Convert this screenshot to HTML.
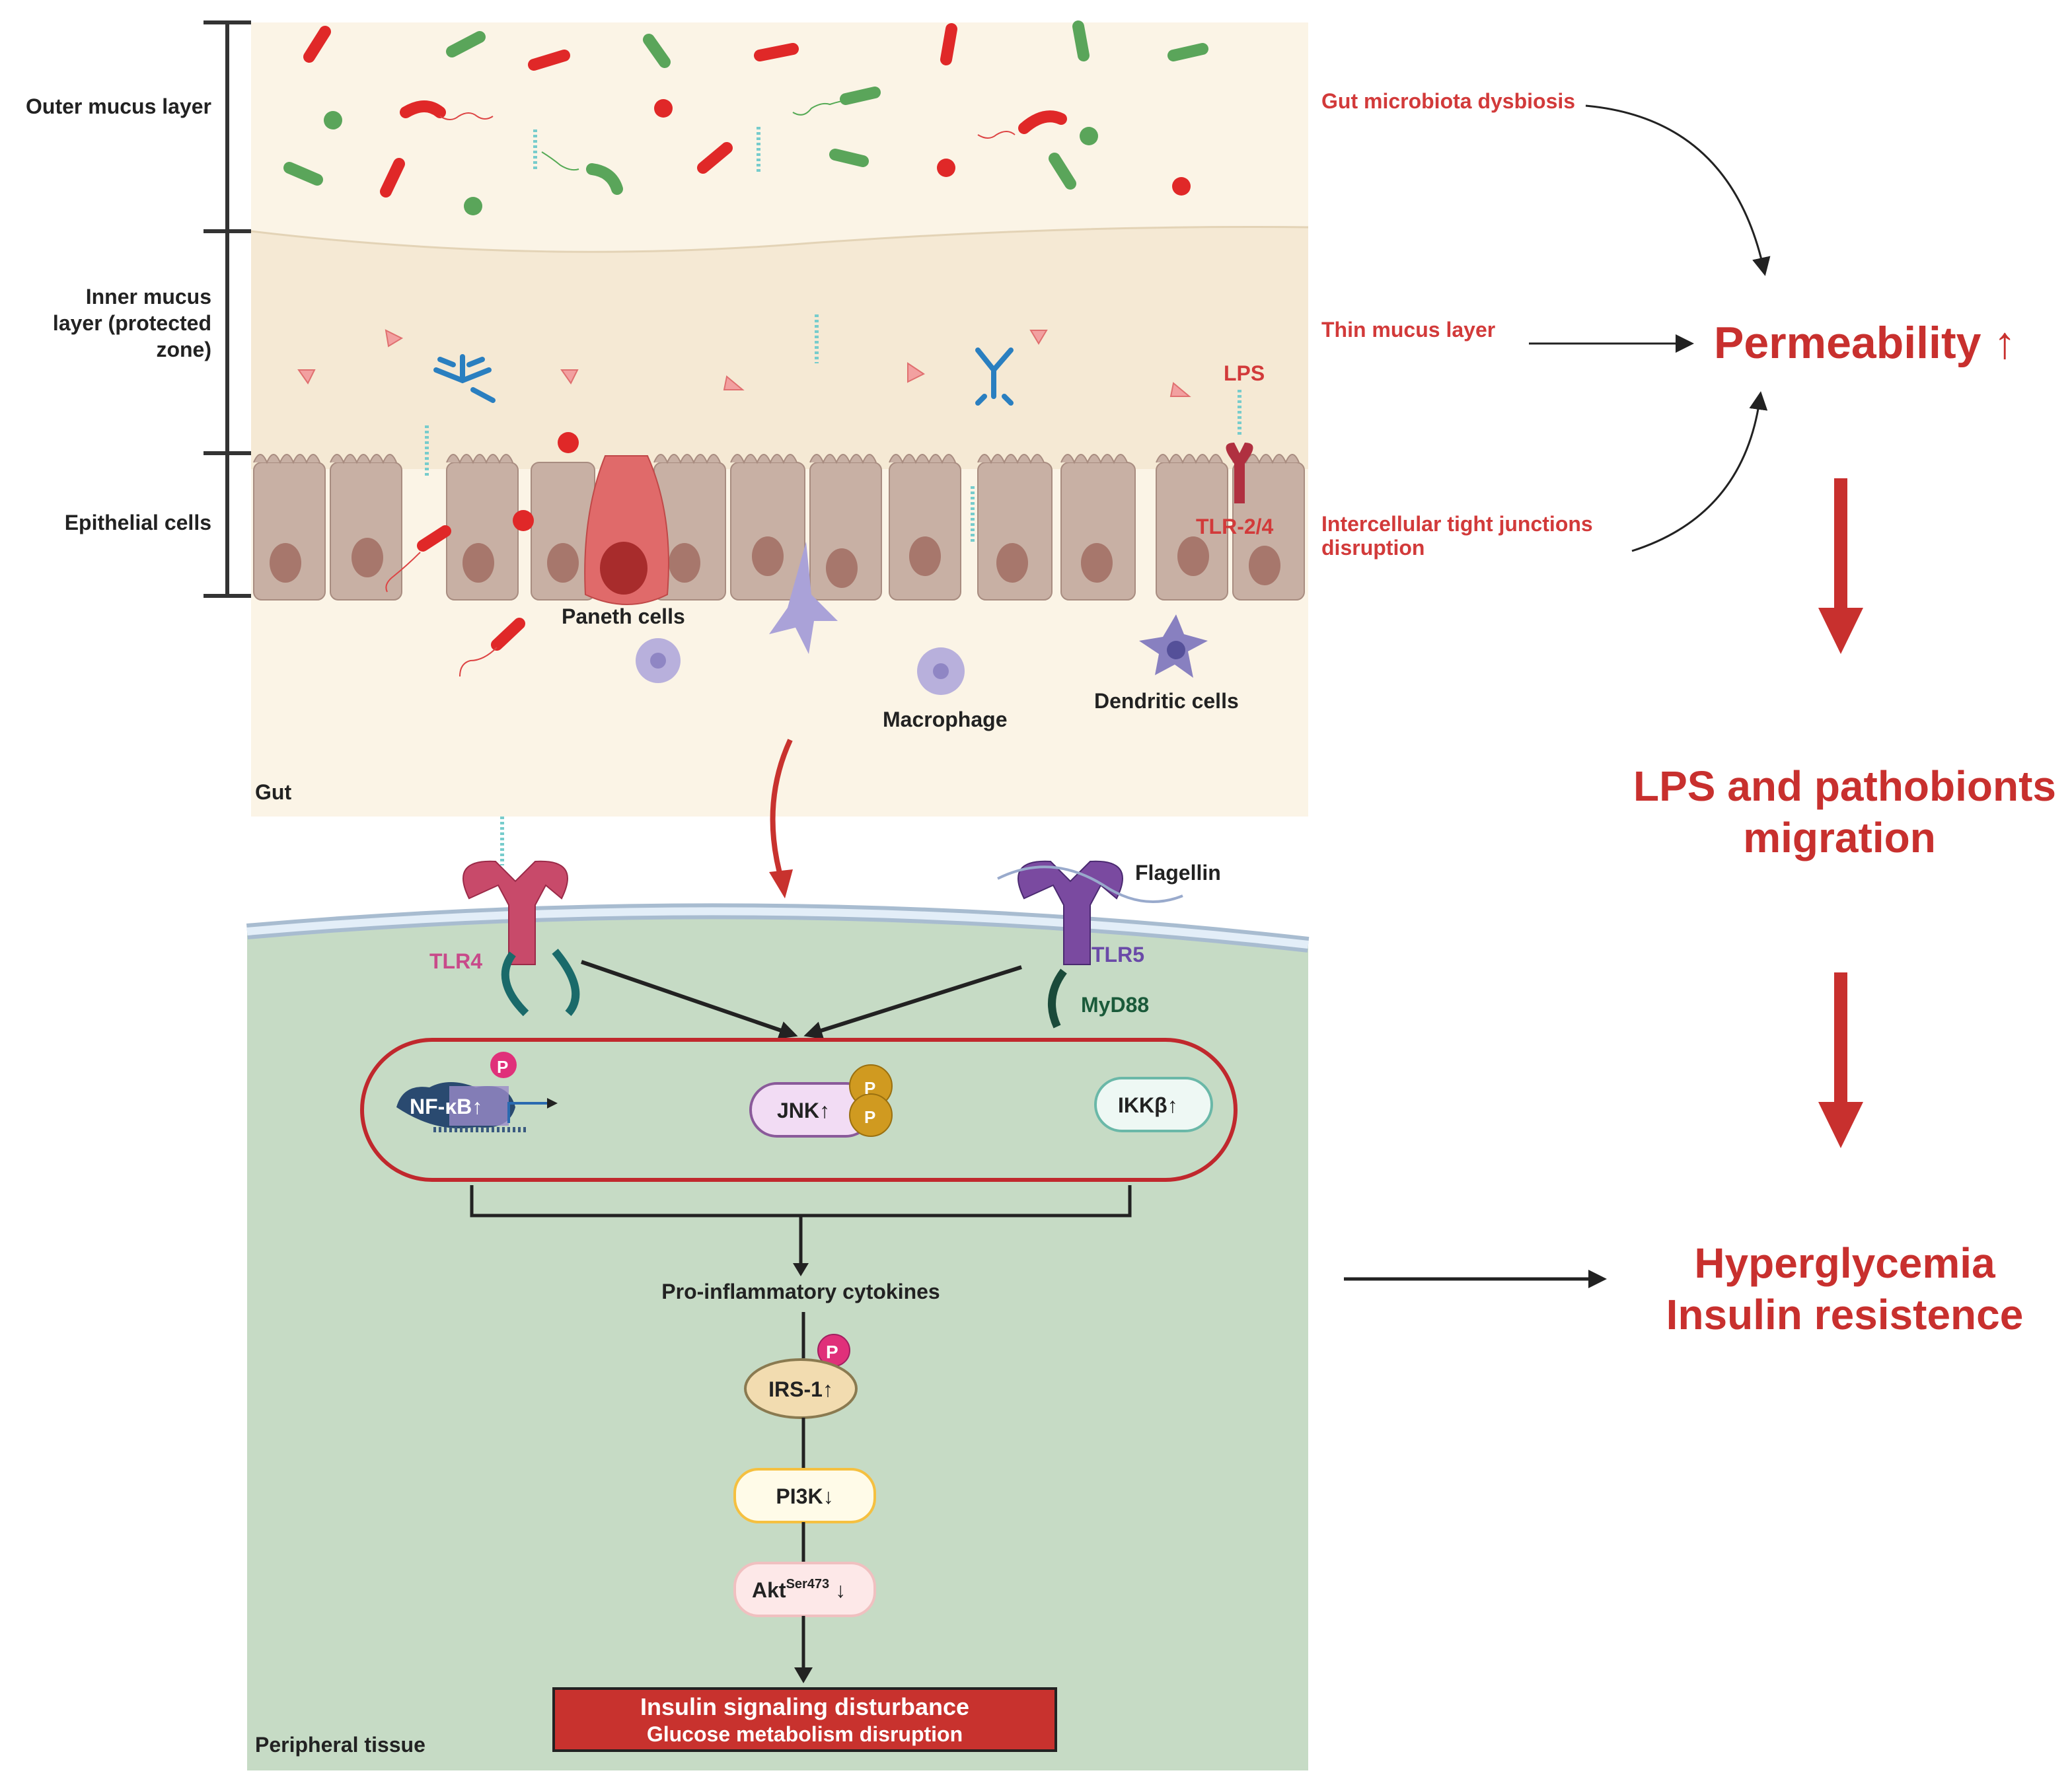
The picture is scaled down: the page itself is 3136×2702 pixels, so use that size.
<!DOCTYPE html>
<html><head><meta charset="utf-8"><style>
html,body{margin:0;padding:0;background:#fff}
svg{display:block}
text{font-family:"Liberation Sans",Arial,sans-serif;font-weight:bold}
</style></head><body>
<svg width="3136" height="2702" viewBox="0 0 1568 1351" xmlns="http://www.w3.org/2000/svg">
<defs>
<marker id="ak" markerWidth="8" markerHeight="8" refX="6" refY="4" orient="auto" markerUnits="userSpaceOnUse"><path d="M0,0 L8,4 L0,8 z" fill="#222"/></marker>
<marker id="ak2" markerWidth="14" markerHeight="14" refX="10" refY="7" orient="auto" markerUnits="userSpaceOnUse"><path d="M0,0 L14,7 L0,14 z" fill="#222"/></marker>
</defs>
<!-- gut panel -->
<rect x="190" y="17" width="800" height="601" fill="#fbf4e6"/>
<path d="M190,175 Q400,200 600,185 T990,172 L990,345 L190,345 z" fill="#f5e9d4"/>
<path d="M190,175 Q400,200 600,185 T990,172" fill="none" stroke="#e3d3b6" stroke-width="1.5"/>
<rect x="190" y="345" width="800" height="10" fill="#f5e9d4"/>
<!-- epithelial cells -->
<g fill="#c8b0a4" stroke="#a88c80" stroke-width="1">
<rect x="192" y="350" width="54" height="104" rx="6"/>
<rect x="250" y="350" width="54" height="104" rx="6"/>
<rect x="338" y="350" width="54" height="104" rx="6"/>
<rect x="402" y="350" width="48" height="104" rx="6"/>
<rect x="495" y="350" width="54" height="104" rx="6"/>
<rect x="553" y="350" width="56" height="104" rx="6"/>
<rect x="613" y="350" width="54" height="104" rx="6"/>
<rect x="673" y="350" width="54" height="104" rx="6"/>
<rect x="740" y="350" width="56" height="104" rx="6"/>
<rect x="803" y="350" width="56" height="104" rx="6"/>
<rect x="875" y="350" width="54" height="104" rx="6"/>
<rect x="933" y="350" width="54" height="104" rx="6"/>
</g>
<path d="M192,350 q5,-12 10,0 q5,-12 10,0 q5,-12 10,0 q5,-12 10,0 q5,-12 10,0 M250,350 q5,-12 10,0 q5,-12 10,0 q5,-12 10,0 q5,-12 10,0 q5,-12 10,0 M338,350 q5,-12 10,0 q5,-12 10,0 q5,-12 10,0 q5,-12 10,0 q5,-12 10,0 M495,350 q5,-12 10,0 q5,-12 10,0 q5,-12 10,0 q5,-12 10,0 q5,-12 10,0 M553,350 q5,-12 10,0 q5,-12 10,0 q5,-12 10,0 q5,-12 10,0 q5,-12 10,0 M613,350 q5,-12 10,0 q5,-12 10,0 q5,-12 10,0 q5,-12 10,0 q5,-12 10,0 M673,350 q5,-12 10,0 q5,-12 10,0 q5,-12 10,0 q5,-12 10,0 q5,-12 10,0 M740,350 q5,-12 10,0 q5,-12 10,0 q5,-12 10,0 q5,-12 10,0 q5,-12 10,0 M803,350 q5,-12 10,0 q5,-12 10,0 q5,-12 10,0 q5,-12 10,0 q5,-12 10,0 M875,350 q5,-12 10,0 q5,-12 10,0 q5,-12 10,0 q5,-12 10,0 q5,-12 10,0 M933,350 q5,-12 10,0 q5,-12 10,0 q5,-12 10,0 q5,-12 10,0 q5,-12 10,0" fill="#c8b0a4" stroke="#a88c80" stroke-width="1"/>
<g fill="#a7776c">
<ellipse cx="216" cy="426" rx="12" ry="15"/><ellipse cx="278" cy="422" rx="12" ry="15"/><ellipse cx="362" cy="426" rx="12" ry="15"/><ellipse cx="426" cy="426" rx="12" ry="15"/><ellipse cx="518" cy="426" rx="12" ry="15"/><ellipse cx="581" cy="421" rx="12" ry="15"/><ellipse cx="637" cy="430" rx="12" ry="15"/><ellipse cx="700" cy="421" rx="12" ry="15"/><ellipse cx="766" cy="426" rx="12" ry="15"/><ellipse cx="830" cy="426" rx="12" ry="15"/><ellipse cx="903" cy="421" rx="12" ry="15"/><ellipse cx="957" cy="428" rx="12" ry="15"/>
</g>
<!-- Paneth cell -->
<path d="M443,450 Q440,390 458,345 L490,345 Q510,390 505,450 Q475,465 443,450z" fill="#e06a6a" stroke="#c04848"/>
<ellipse cx="472" cy="430" rx="18" ry="20" fill="#a82c2c"/>
<!-- bracket -->
<g stroke="#333" stroke-width="3" fill="none"><line x1="172" y1="17" x2="172" y2="451"/><line x1="154" y1="17" x2="190" y2="17"/><line x1="154" y1="175" x2="190" y2="175"/><line x1="154" y1="343" x2="190" y2="343"/><line x1="154" y1="451" x2="190" y2="451"/></g>
<g font-size="16" fill="#222" text-anchor="end">
<text x="160" y="86">Outer mucus layer</text>
<text x="160" y="230">Inner mucus</text><text x="160" y="250">layer (protected</text><text x="160" y="270">zone)</text>
<text x="160" y="401">Epithelial cells</text>
</g>
<!-- bacteria -->
<g stroke-linecap="round" stroke-width="9">
<g stroke="#e02828"><line x1="234" y1="43" x2="246" y2="24"/><line x1="404" y1="49" x2="427" y2="42"/><line x1="575" y1="42" x2="600" y2="37"/><line x1="716" y1="45" x2="720" y2="22"/><line x1="292" y1="145" x2="302" y2="124"/><line x1="532" y1="127" x2="550" y2="112"/><path d="M307,85 Q322,76 333,85" fill="none"/><path d="M775,97 Q790,84 803,90" fill="none"/><line x1="320" y1="413" x2="337" y2="402"/><line x1="376" y1="488" x2="393" y2="472"/></g>
<g stroke="#5aa55a"><line x1="342" y1="39" x2="363" y2="28"/><line x1="491" y1="30" x2="503" y2="47"/><line x1="816" y1="20" x2="820" y2="42"/><line x1="888" y1="42" x2="910" y2="37"/><line x1="219" y1="127" x2="240" y2="136"/><line x1="632" y1="117" x2="653" y2="122"/><line x1="798" y1="120" x2="810" y2="139"/><path d="M448,128 Q463,130 467,143" fill="none"/><line x1="640" y1="75" x2="662" y2="70"/></g>
</g>
<g fill="#e02828"><circle cx="502" cy="82" r="7"/><circle cx="716" cy="127" r="7"/><circle cx="894" cy="141" r="7"/><circle cx="430" cy="335" r="8"/><circle cx="396" cy="394" r="8"/></g>
<g fill="#5aa55a"><circle cx="252" cy="91" r="7"/><circle cx="358" cy="156" r="7"/><circle cx="824" cy="103" r="7"/></g>
<g fill="none" stroke-width="1"><path d="M333,88 q8,5 14,0 q8,-5 14,0 q6,4 12,0" stroke="#d44"/><path d="M740,102 q8,5 14,0 q8,-5 14,0" stroke="#d44"/><path d="M600,85 q8,5 14,-3 q8,-5 14,-3 q6,-2 12,-3" stroke="#5a5"/><path d="M410,115 q8,5 14,10 q8,5 14,3" stroke="#5a5"/><path d="M318,418 q-10,10 -20,18 q-8,6 -5,12" stroke="#d44"/><path d="M376,490 q-10,10 -20,10 q-8,2 -8,12" stroke="#d44"/></g>
<!-- triangles -->
<g fill="#f2a0a0" stroke="#e07070"><path d="M292,250 l12,6 l-10,6z"/><path d="M226,280 l12,0 l-5,10z"/><path d="M425,280 l12,0 l-5,10z"/><path d="M550,285 l12,10 l-14,0z"/><path d="M687,275 l12,8 l-12,6z"/><path d="M780,250 l12,0 l-6,10z"/><path d="M888,290 l12,10 l-14,0z"/></g>
<!-- antibodies -->
<g stroke="#2a7fc0" stroke-width="4" fill="none" stroke-linecap="round"><path d="M330,280 l20,8 l20,-8 M350,288 l0,-18 M333,272 l10,4 M365,272 l-10,4 M358,295 l15,8"/><path d="M740,265 l12,15 l0,20 M765,265 l-13,15 M745,300 l-5,5 M760,300 l5,5"/></g>
<!-- LPS sticks -->
<g stroke="#7cc" stroke-width="3" stroke-dasharray="2 2"><line x1="405" y1="98" x2="405" y2="130"/><line x1="574" y1="96" x2="574" y2="130"/><line x1="618" y1="238" x2="618" y2="275"/><line x1="323" y1="322" x2="323" y2="360"/><line x1="736" y1="368" x2="736" y2="410"/><line x1="938" y1="295" x2="938" y2="330"/><line x1="380" y1="618" x2="380" y2="655"/></g>
<!-- TLR-2/4 -->
<path d="M930,345 q-6,-10 4,-10 l4,8 l4,-8 q10,0 4,10 l-4,6 l0,30 l-8,0 l0,-30z" fill="#b03040"/>
<g font-size="16" fill="#d23a3a"><text x="926" y="288">LPS</text><text x="905" y="404">TLR-2/4</text></g>
<!-- immune cells -->
<circle cx="498" cy="500" r="17" fill="#b8b0dc"/><circle cx="498" cy="500" r="6" fill="#8f86c4"/>
<circle cx="712" cy="508" r="18" fill="#b8b0dc"/><circle cx="712" cy="508" r="6" fill="#8f86c4"/>
<path d="M610,410 l4,40 l20,20 l-18,0 l-4,25 l-10,-20 l-20,5 l14,-20 z" fill="#aaa2d8"/>
<path d="M890,465 l6,15 l18,5 l-15,8 l4,20 l-14,-10 l-15,8 l3,-16 l-15,-10 l18,-3 z" fill="#8880c0"/><circle cx="890" cy="492" r="7" fill="#555099"/>
<g font-size="16" fill="#222"><text x="425" y="472">Paneth cells</text><text x="668" y="550">Macrophage</text><text x="828" y="536">Dendritic cells</text><text x="193" y="605">Gut</text></g>
<!-- red curved arrow -->
<path d="M598,560 Q575,610 592,668" fill="none" stroke="#c8322e" stroke-width="4"/>
<path d="M582,660 l12,20 l6,-22z" fill="#c8322e"/>
<!-- peripheral panel -->
<path d="M187,705 Q590,670 990,715 L990,1340 L187,1340 z" fill="#c6dbc5"/>
<path d="M187,705 Q590,670 990,715" fill="none" stroke="#a8bcd0" stroke-width="12"/>
<path d="M187,705 Q590,670 990,715" fill="none" stroke="#e3eef8" stroke-width="6"/>
<!-- TLR4 -->
<path d="M355,680 q-15,-30 20,-28 l15,15 l15,-15 q35,-2 20,28 l-12,-10 l-8,15 l0,45 l-20,0 l0,-45 l-8,-15z" fill="#c84a6a" stroke="#9a2a48"/>
<path d="M388,722 q-15,20 10,45 M420,720 q25,30 10,47" fill="none" stroke="#1a6a6a" stroke-width="6"/>
<!-- TLR5 -->
<path d="M775,680 q-15,-30 20,-28 l15,15 l15,-15 q35,-2 20,28 l-12,-10 l-8,15 l0,45 l-20,0 l0,-45 l-8,-15z" fill="#7a4aa0" stroke="#4a2a70"/>
<path d="M755,665 q40,-20 80,5 q30,20 60,8" fill="none" stroke="#9ac" stroke-width="2"/>
<path d="M805,735 q-15,20 -5,42" fill="none" stroke="#1a4a3a" stroke-width="6"/>
<g font-size="16"><text x="325" y="733" fill="#c84a8a">TLR4</text><text x="826" y="728" fill="#6a4aa8">TLR5</text><text x="818" y="766" fill="#1a5a3a">MyD88</text><text x="859" y="666" fill="#222">Flagellin</text></g>
<line x1="440" y1="728" x2="600" y2="783" stroke="#222" stroke-width="3" marker-end="url(#ak2)"/>
<line x1="773" y1="732" x2="612" y2="783" stroke="#222" stroke-width="3" marker-end="url(#ak2)"/>
<!-- oval -->
<rect x="274" y="787" width="661" height="106" rx="53" fill="none" stroke="#c0282d" stroke-width="3"/>
<path d="M300,838 q5,-18 25,-15 q15,-8 35,0 q25,-5 30,15 q-5,18 -30,15 q-30,5 -60,-15z" fill="#2a4a70"/>
<path d="M340,822 h45 v30 h-45z" fill="#9a8ac8" opacity="0.8"/>
<path d="M328,855 h72" stroke="#3a5a80" stroke-width="4" stroke-dasharray="2 2"/>
<path d="M385,850 v-15 h35" stroke="#2a6ab0" stroke-width="2" fill="none" marker-end="url(#ak)"/>
<circle cx="381" cy="806" r="10" fill="#e0307a"/><text x="376" y="812" font-size="13" fill="#fff" font-weight="normal">P</text>
<text x="310" y="843" font-size="16" fill="#fff">NF-κB↑</text>
<rect x="568" y="820" width="92" height="40" rx="20" fill="#f2dcf4" stroke="#8a5a9a" stroke-width="2"/>
<text x="588" y="846" font-size="16" fill="#222">JNK↑</text>
<circle cx="659" cy="822" r="16" fill="#d09a20" stroke="#9a7010"/><circle cx="659" cy="844" r="16" fill="#d09a20" stroke="#9a7010"/>
<text x="654" y="828" font-size="13" fill="#fff" font-weight="normal">P</text><text x="654" y="850" font-size="13" fill="#fff" font-weight="normal">P</text>
<rect x="829" y="816" width="88" height="40" rx="20" fill="#eef8f4" stroke="#6ab8a8" stroke-width="2"/>
<text x="846" y="842" font-size="16" fill="#222">IKKβ↑</text>
<!-- bracket -->
<path d="M357,897 V920 H855 V897 M606,920 V962" fill="none" stroke="#222" stroke-width="2.5"/>
<path d="M600,956 l6,10 l6,-10z" fill="#222"/>
<text x="606" y="983" font-size="16" fill="#222" text-anchor="middle">Pro-inflammatory cytokines</text>
<line x1="608" y1="993" x2="608" y2="1028" stroke="#222" stroke-width="2.5"/>
<circle cx="631" cy="1022" r="12" fill="#e0307a" stroke="#a02060"/>
<text x="625" y="1028" font-size="14" fill="#fff" font-weight="normal">P</text>
<ellipse cx="606" cy="1051" rx="42" ry="22" fill="#f2dcb0" stroke="#8a7a50" stroke-width="2"/>
<text x="606" y="1057" font-size="16" fill="#222" text-anchor="middle">IRS-1↑</text>
<line x1="608" y1="1073" x2="608" y2="1112" stroke="#222" stroke-width="2.5"/>
<rect x="556" y="1112" width="106" height="40" rx="18" fill="#fffbe8" stroke="#f5c040" stroke-width="2"/>
<text x="609" y="1138" font-size="16" fill="#222" text-anchor="middle">PI3K↓</text>
<line x1="608" y1="1152" x2="608" y2="1183" stroke="#222" stroke-width="2.5"/>
<rect x="556" y="1183" width="106" height="40" rx="18" fill="#fde8e8" stroke="#f0c0c0" stroke-width="2"/>
<text x="569" y="1209" font-size="16" fill="#222">Akt<tspan font-size="10" dy="-7">Ser473</tspan><tspan dy="7"> ↓</tspan></text>
<line x1="608" y1="1223" x2="608" y2="1266" stroke="#222" stroke-width="2.5"/>
<path d="M601,1262 l7,12 l7,-12z" fill="#222"/>
<rect x="419" y="1278" width="380" height="47" fill="#c8322e" stroke="#222" stroke-width="2"/>
<text x="609" y="1298" font-size="18" fill="#fff" text-anchor="middle" font-weight="normal">Insulin signaling disturbance</text>
<text x="609" y="1318" font-size="16" fill="#fff" text-anchor="middle">Glucose metabolism disruption</text>
<text x="193" y="1326" font-size="16" fill="#222">Peripheral tissue</text>
<!-- right side -->
<g font-size="16" fill="#d23a3a"><text x="1000" y="82">Gut microbiota dysbiosis</text><text x="1000" y="255">Thin mucus layer</text><text x="1000" y="402">Intercellular tight junctions</text><text x="1000" y="420">disruption</text></g>
<path d="M1200,80 Q1310,90 1335,205" fill="none" stroke="#222" stroke-width="1.5" marker-end="url(#ak2)"/>
<line x1="1157" y1="260" x2="1278" y2="260" stroke="#222" stroke-width="1.5" marker-end="url(#ak2)"/>
<path d="M1235,417 Q1320,390 1332,300" fill="none" stroke="#222" stroke-width="1.5" marker-end="url(#ak2)"/>
<text x="1297" y="271" font-size="34" fill="#c8302e">Permeability ↑</text>
<g fill="#c8302e"><rect x="1388" y="362" width="10" height="100"/><path d="M1376,460 h34 l-17,35z"/><rect x="1388" y="736" width="10" height="100"/><path d="M1376,834 h34 l-17,35z"/></g>
<g font-size="32" fill="#c8302e" text-anchor="middle"><text x="1396" y="606">LPS and pathobionts</text><text x="1392" y="645">migration</text><text x="1396" y="967">Hyperglycemia</text><text x="1396" y="1006">Insulin resistence</text></g>
<line x1="1017" y1="968" x2="1212" y2="968" stroke="#222" stroke-width="2.5" marker-end="url(#ak2)"/>
</svg>
</body></html>
